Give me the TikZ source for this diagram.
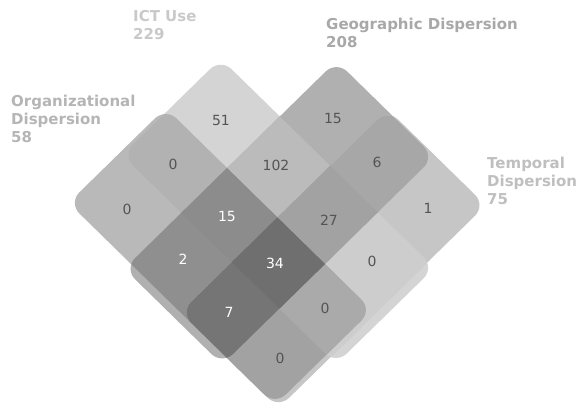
\documentclass[tikz,border=0pt]{standalone}
\usepackage{fontspec}
\setmainfont{DejaVu Sans}

% shade of each region (I = ICT, O = organizational, G = geographic, T = temporal)
\definecolor{cI}{gray}{0.83}
\definecolor{cO}{gray}{0.725}
\definecolor{cG}{gray}{0.69}
\definecolor{cT}{gray}{0.775}
\definecolor{cIO}{gray}{0.70}
\definecolor{cIG}{gray}{0.735}
\definecolor{cIT}{gray}{0.805}
\definecolor{cOG}{gray}{0.56}
\definecolor{cOT}{gray}{0.635}
\definecolor{cGT}{gray}{0.655}
\definecolor{cIOG}{gray}{0.55}
\definecolor{cIOT}{gray}{0.665}
\definecolor{cIGT}{gray}{0.635}
\definecolor{cOGT}{gray}{0.46}
\definecolor{cIOGT}{gray}{0.435}
\definecolor{numtext}{gray}{0.33}
\definecolor{ictname}{gray}{0.79}
\definecolor{orgname}{gray}{0.71}
\definecolor{geoname}{gray}{0.66}
\definecolor{tempname}{gray}{0.75}

% the four sets, in cell coordinates
\newcommand{\ictshape}{(-2.75,-1.62) -- (1.7,-1.62) -- (1.7,0.43) -- (-2.75,0.43) -- cycle}
\newcommand{\orgshape}{(-2.8,-0.52) -- (1.5,-0.52) -- (1.5,1.5) -- (-2.8,1.5) -- cycle}
\newcommand{\geoshape}{(-1.52,-2.8) -- (0.52,-2.8) -- (0.52,1.62) -- (-1.52,1.62) -- cycle}
\newcommand{\tempshape}{(-0.47,-2.82) -- (1.57,-2.82) -- (1.57,1.5) -- (-0.47,1.5) -- cycle}

\tikzset{
  regnum/.style={font=\fontsize{14}{14}\selectfont, text=numtext, inner sep=0pt},
  regnumw/.style={regnum, text=white},
  setname/.style={font=\fontsize{15}{18}\selectfont\bfseries, align=left, anchor=north west, inner sep=0pt},
}

\begin{document}
\begin{tikzpicture}[x=1pt, y=-1pt]
\useasboundingbox (0,0) rectangle (576,408);

\begin{scope}[shift={(275,264)}, x={(48pt,-47pt)}, y={(-48pt,-47pt)}, rounded corners=15pt]
  % one set
  \fill[cI] \ictshape;
  \fill[cO] \orgshape;
  \fill[cG] \geoshape;
  \fill[cT] \tempshape;
  % two sets
  \begin{scope}
    \clip \ictshape;
    \fill[cIO] \orgshape;
    \fill[cIG] \geoshape;
    \fill[cIT] \tempshape;
  \end{scope}
  \begin{scope}
    \clip \orgshape;
    \fill[cOG] \geoshape;
    \fill[cOT] \tempshape;
  \end{scope}
  \begin{scope}
    \clip \geoshape;
    \fill[cGT] \tempshape;
  \end{scope}
  % three sets
  \begin{scope}
    \clip \ictshape; \clip \orgshape;
    \fill[cIOG] \geoshape;
    \fill[cIOT] \tempshape;
  \end{scope}
  \begin{scope}
    \clip \ictshape; \clip \geoshape;
    \fill[cIGT] \tempshape;
  \end{scope}
  \begin{scope}
    \clip \orgshape; \clip \geoshape;
    \fill[cOGT] \tempshape;
  \end{scope}
  % all four
  \begin{scope}
    \clip \ictshape; \clip \orgshape; \clip \geoshape;
    \fill[cIOGT] \tempshape;
  \end{scope}
\end{scope}

% counts
\node[regnum] (i) at (221,120) {51};
\node[regnum] (g) at (333,118) {15};
\node[regnum] (io) at (173,164) {0};
\node[regnum] (ig) at (276,165) {102};
\node[regnum] (gt) at (377,162) {6};
\node[regnum] (o) at (127,209) {0};
\node[regnumw] (iog) at (227,216) {15};
\node[regnum] (igt) at (329,220) {27};
\node[regnum] (t) at (428,208) {1};
\node[regnumw] (og) at (183,259) {2};
\node[regnumw] (iogt) at (275,263) {34};
\node[regnum] (it) at (372,261) {0};
\node[regnumw] (ogt) at (229,312) {7};
\node[regnum] (iot) at (325,308) {0};
\node[regnum] (ot) at (280,358) {0};

% set names
\node[setname, text=ictname] (ict) at (133,10.6) {ICT Use\\229};
\node[setname, text=geoname] (geo) at (326,17.6) {Geographic Dispersion\\208};
\node[setname, text=orgname] (org) at (11,94.6) {Organizational\\Dispersion\\58};
\node[setname, text=tempname] (temp) at (487,156.6) {Temporal\\Dispersion\\75};
\end{tikzpicture}
\end{document}
